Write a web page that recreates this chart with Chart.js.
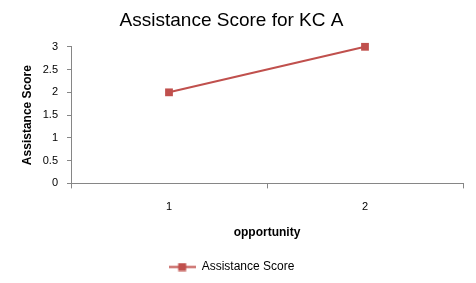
<!DOCTYPE html>
<html>
<head>
<meta charset="utf-8">
<script src="https://cdn.jsdelivr.net/npm/chart.js@4.4.0/dist/chart.umd.min.js"></script>
<style>
  html, body { margin: 0; padding: 0; background: #fff; }
  #wrap { width: 476px; height: 283px; }
</style>
</head>
<body>
<div id="wrap"><canvas id="chart"></canvas></div>
<script>
// data
const opportunities = ["1", "2"];
const assistanceScore = [2, 3];
const seriesName = "Assistance Score";

const red = "#c0504d";
const axisGray = "#868686";
const fontFamily = "'Liberation Sans', Arial, Helvetica, sans-serif";

// legend symbol: short line with a square in the middle
function legendSymbol() {
  let c = document.createElement("canvas");
  c.width = 27;
  c.height = 9;
  let ctx = c.getContext("2d");
  ctx.strokeStyle = red;
  ctx.lineWidth = 2;
  ctx.beginPath();
  ctx.moveTo(0, 4.5);
  ctx.lineTo(27, 4.5);
  ctx.stroke();
  ctx.fillStyle = red;
  ctx.fillRect(9.5, 0.5, 8, 8);
  return c;
}
const symbol = legendSymbol();

let ctx = document.getElementById("chart").getContext("2d");
let chart = new Chart(ctx, {
  type: "line",
  data: {
    labels: opportunities,
    datasets: [
      {
        label: seriesName,
        data: assistanceScore,
        borderColor: red,
        backgroundColor: red,
        borderWidth: 2,
        pointStyle: "rect",
        pointRadius: 5.5,
        pointBorderWidth: 0,
        fill: false,
        clip: false,
      },
    ],
  },
  options: {
    responsive: true,
    maintainAspectRatio: false,
    animation: false,
    layout: {
      padding: { left: 0, right: 13, top: 0, bottom: 0 },
    },
    plugins: {
      title: {
        display: true,
        text: "Assistance Score for KC A",
        color: "#000",
        font: { family: fontFamily, size: 19, weight: "normal" },
        padding: { top: 9, bottom: 15 },
      },
      legend: {
        position: "bottom",
        labels: {
          color: "#000",
          font: { family: fontFamily, size: 12 },
          usePointStyle: true,
          pointStyleWidth: 27,
          padding: 10,
          generateLabels: function (chart) {
            return chart.data.datasets.map(function (ds, i) {
              return {
                text: ds.label,
                pointStyle: symbol,
                fillStyle: red,
                strokeStyle: red,
                lineWidth: 0,
                datasetIndex: i,
                fontColor: "#000",
              };
            });
          },
        },
      },
      tooltip: { enabled: false },
    },
    scales: {
      x: {
        offset: true,
        grid: {
          display: true,
          offset: true,
          drawOnChartArea: false,
          drawTicks: true,
          tickLength: 5,
          color: axisGray,
        },
        border: { color: axisGray, width: 1 },
        ticks: {
          color: "#000",
          font: { family: fontFamily, size: 11 },
          padding: 12,
        },
        title: {
          display: true,
          text: "opportunity",
          color: "#000",
          font: { family: fontFamily, size: 12, weight: "bold" },
          padding: { top: 0, bottom: 11 },
        },
      },
      y: {
        min: 0,
        max: 3,
        ticks: {
          stepSize: 0.5,
          color: "#000",
          font: { family: fontFamily, size: 11 },
          padding: 9,
          callback: function (value) {
            return String(value);
          },
        },
        grid: {
          display: true,
          drawOnChartArea: false,
          drawTicks: true,
          tickLength: 4,
          color: axisGray,
        },
        border: { color: axisGray, width: 1 },
        title: {
          display: true,
          text: "Assistance Score",
          color: "#000",
          font: { family: fontFamily, size: 12, weight: "bold" },
          padding: { top: 20, bottom: 0 },
        },
        afterFit: function (scale) {
          scale.width = 71;
        },
      },
    },
  },
});
</script>
</body>
</html>
